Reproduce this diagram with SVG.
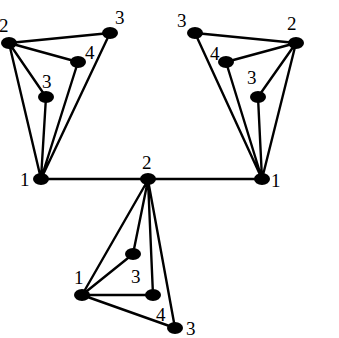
<svg xmlns="http://www.w3.org/2000/svg" width="339" height="338" viewBox="0 0 339 338">
<style>
.e{stroke:#000;stroke-width:2.4;fill:none;stroke-linecap:round}
.n{fill:#000}
.t{font-family:"Liberation Serif","Times New Roman",serif;font-size:19px;fill:#000}
</style>
<rect width="339" height="338" fill="#fff"/>
<g id="edges">
<path class="e" d="M9,43L110,33M9,43L78,62M9,43L46,97M9,43L41,179M41,179L46,97M41,179L78,62M41,179L110,33"/>
<path class="e" d="M195,33L296,43M226,62L296,43M258,97L296,43M262,179L195,33M262,179L226,62M262,179L258,97M262,179L296,43"/>
<path class="e" d="M41,179L262,179"/>
<path class="e" d="M148,180L82,295M148,180L133,254M148,180L153,295M148,180L175,328M82,295L133,254M82,295L153,295M82,295L175,328"/>
</g>
<g id="L2"><ellipse class="n" cx="9" cy="43" rx="8" ry="6"/><text class="t" x="-1" y="32">2</text></g>
<g id="L3a"><ellipse class="n" cx="110" cy="33" rx="8" ry="6"/><text class="t" x="115" y="24">3</text></g>
<g id="L4"><ellipse class="n" cx="78" cy="62" rx="8" ry="6"/><text class="t" x="85" y="59">4</text></g>
<g id="L3b"><ellipse class="n" cx="46" cy="97" rx="8" ry="6"/><text class="t" x="42" y="88">3</text></g>
<g id="L1"><ellipse class="n" cx="41" cy="179" rx="8" ry="6"/><text class="t" x="20" y="186">1</text></g>
<g id="C2"><ellipse class="n" cx="148" cy="179" rx="8" ry="6"/><text class="t" x="142" y="169">2</text></g>
<g id="R3a"><ellipse class="n" cx="195" cy="33" rx="8" ry="6"/><text class="t" x="177" y="27">3</text></g>
<g id="R2"><ellipse class="n" cx="296" cy="43" rx="8" ry="6"/><text class="t" x="287" y="30">2</text></g>
<g id="R4"><ellipse class="n" cx="226" cy="62" rx="8" ry="6"/><text class="t" x="210" y="60">4</text></g>
<g id="R3b"><ellipse class="n" cx="258" cy="97" rx="8" ry="6"/><text class="t" x="247" y="84">3</text></g>
<g id="R1"><ellipse class="n" cx="262" cy="179" rx="8" ry="6"/><text class="t" x="271" y="187">1</text></g>
<g id="B3a"><ellipse class="n" cx="133" cy="254" rx="8" ry="6"/><text class="t" x="131" y="283">3</text></g>
<g id="B1"><ellipse class="n" cx="82" cy="295" rx="8" ry="6"/><text class="t" x="74" y="284">1</text></g>
<g id="B4"><ellipse class="n" cx="153" cy="295" rx="8" ry="6"/><text class="t" x="156" y="321">4</text></g>
<g id="B3b"><ellipse class="n" cx="175" cy="328" rx="8" ry="6"/><text class="t" x="186" y="335">3</text></g>
</svg>
